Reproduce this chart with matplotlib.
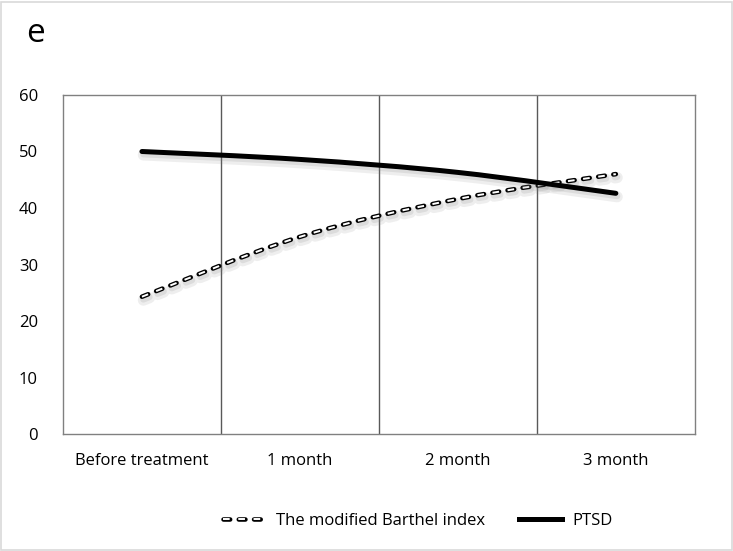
import matplotlib
matplotlib.use('Agg')
import matplotlib.pyplot as plt
import matplotlib.patheffects as pe
from matplotlib.path import Path
from matplotlib.patches import PathPatch, Rectangle
from matplotlib.lines import Line2D

plt.rcParams['font.family'] = ['Open Sans', 'DejaVu Sans']
plt.rcParams['lines.scale_dashes'] = False

categories = ['Before treatment', '1 month', '2 month', '3 month']
barthel = [24.3, 34.9, 41.6, 46.0]
ptsd = [50.0, 48.6, 46.3, 42.6]
yticks = [0, 10, 20, 30, 40, 50, 60]


def smooth_path(xs, ys):
    # Excel-like smoothed line: cubic bezier through the points
    pts = list(zip(xs, ys))
    n = len(pts)
    verts = [pts[0]]
    codes = [Path.MOVETO]
    for i in range(n - 1):
        p0 = pts[i - 1] if i > 0 else pts[i]
        p1 = pts[i]
        p2 = pts[i + 1]
        p3 = pts[i + 2] if i + 2 < n else pts[i + 1]
        c1 = (p1[0] + (p2[0] - p0[0]) / 6, p1[1] + (p2[1] - p0[1]) / 6)
        c2 = (p2[0] - (p3[0] - p1[0]) / 6, p2[1] - (p3[1] - p1[1]) / 6)
        verts += [c1, c2, p2]
        codes += [Path.CURVE4] * 3
    return Path(verts, codes)


fig = plt.figure(figsize=(7.33, 5.51), dpi=100)
fig.patches.append(Rectangle((0.002, 0.002), 0.996, 0.995, transform=fig.transFigure,
                             fill=False, edgecolor='#d9d9d9', linewidth=1.2))
ax = fig.add_axes([0.0859, 0.2123, 0.862, 0.6153])

x = list(range(len(categories)))
shadow = [pe.SimpleLineShadow(offset=(1, -2.5), shadow_color='#777777', alpha=0.12, linewidth=8),
          pe.SimpleLineShadow(offset=(1, -2), shadow_color='#777777', alpha=0.15, linewidth=4.5),
          pe.Normal()]

dash_out = (0, (4.8, 6.2))
dash_in = (0, (4.8, 6.2))

p_b = smooth_path(x, barthel)
ax.add_patch(PathPatch(p_b, fill=False, edgecolor='black', linewidth=3.3,
                       linestyle=dash_out, capstyle='round', path_effects=shadow, zorder=3))
ax.add_patch(PathPatch(p_b, fill=False, edgecolor='white', linewidth=1.4,
                       linestyle=dash_in, capstyle='butt', zorder=4))

p_p = smooth_path(x, ptsd)
ax.add_patch(PathPatch(p_p, fill=False, edgecolor='black', linewidth=3.6,
                       capstyle='round', path_effects=shadow, zorder=5))

ax.set_xlim(-0.5, len(categories) - 0.5)
ax.set_ylim(0, 60)
ax.set_yticks(yticks)
ax.set_xticks(x)
ax.set_xticklabels(categories)
for b in [0.5, 1.5, 2.5]:
    ax.axvline(b, color='#595959', linewidth=1.0, zorder=1)
for s in ax.spines.values():
    s.set_color('#808080')
    s.set_linewidth(1.0)
ax.tick_params(length=0, labelsize=12, colors='#000000')
ax.tick_params(axis='x', pad=14)
ax.tick_params(axis='y', pad=18)

fig.text(0.035, 0.94, 'e', fontsize=24, va='center')

h1 = (Line2D([], [], color='black', linewidth=3.3, linestyle=dash_out, dash_capstyle='round'),
      Line2D([], [], color='white', linewidth=1.4, linestyle=dash_in, dash_capstyle='butt'))
h2 = Line2D([], [], color='black', linewidth=3.6)
fig.legend([h1, h2], ['The modified Barthel index', 'PTSD'], loc='center',
           bbox_to_anchor=(0.57, 0.054), ncol=2, frameon=False, fontsize=12,
           handlelength=2.6, handletextpad=0.6, columnspacing=2.0)

fig.savefig('out.png', dpi=100)
